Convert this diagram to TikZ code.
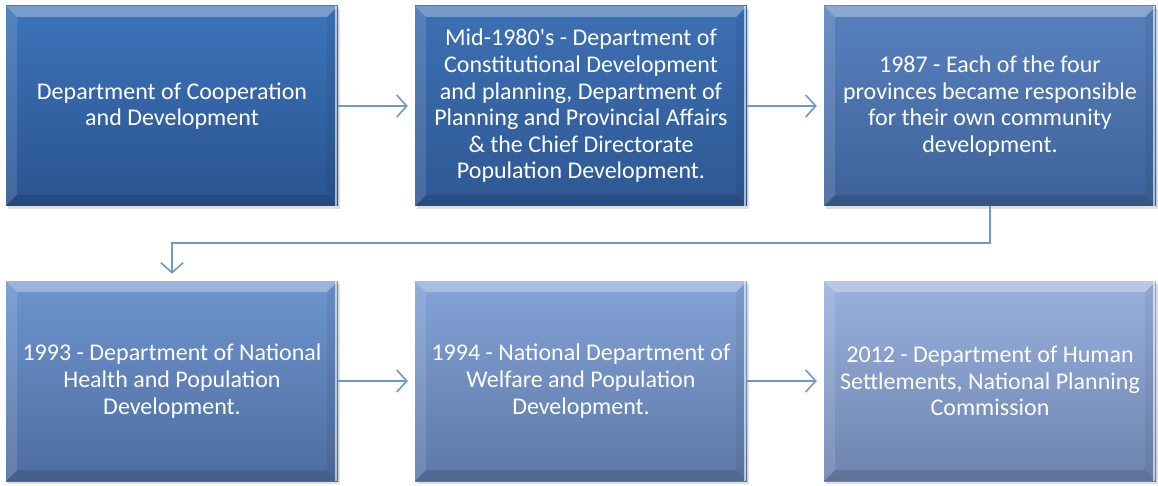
\documentclass[tikz,border=0pt]{standalone}
\usepackage{fontspec}
\setmainfont{Carlito}
\usetikzlibrary{arrows.meta,shadows}

\definecolor{linkblue}{HTML}{7396C8}
\definecolor{topA}{HTML}{3C74BA}\definecolor{botA}{HTML}{2A5390}
\definecolor{topB}{HTML}{3D70B4}\definecolor{botB}{HTML}{2E5893}
\definecolor{topC}{HTML}{5981BF}\definecolor{botC}{HTML}{3D6298}
\definecolor{topD}{HTML}{6E94CF}\definecolor{botD}{HTML}{4E6D9E}
\definecolor{topE}{HTML}{84A3D6}\definecolor{botE}{HTML}{5C78A8}
\definecolor{topF}{HTML}{99B2DD}\definecolor{botF}{HTML}{6C83AE}

\tikzset{
  stage/.style 2 args={rectangle, minimum width=332pt, minimum height=200pt,
    inner sep=0pt, top color=#1, bottom color=#2, draw=none,
    text=white, align=center,
    font=\fontsize{24}{26.6}\selectfont,
    drop shadow={opacity=0.25, shadow xshift=2pt, shadow yshift=-3pt},
    path picture={
      \coordinate (nw) at (path picture bounding box.north west);
      \coordinate (ne) at (path picture bounding box.north east);
      \coordinate (sw) at (path picture bounding box.south west);
      \coordinate (se) at (path picture bounding box.south east);
      \fill[white, opacity=0.3] (nw) -- (ne) -- ([shift={(-11pt,-11pt)}]ne) -- ([shift={(11pt,-11pt)}]nw) -- cycle;
      \fill[white, opacity=0.12] (nw) -- ([shift={(11pt,-11pt)}]nw) -- ([shift={(11pt,11pt)}]sw) -- (sw) -- cycle;
      \fill[black, opacity=0.06] (ne) -- ([shift={(-11pt,-11pt)}]ne) -- ([shift={(-11pt,11pt)}]se) -- (se) -- cycle;
      \fill[black, opacity=0.12] (sw) -- ([shift={(11pt,11pt)}]sw) -- ([shift={(-11pt,11pt)}]se) -- (se) -- cycle;
      \draw[white, opacity=0.6, line width=1.2pt] ([xshift=-2pt]ne) -- ([xshift=-2pt]se);
    }},
  link/.style={draw=linkblue, line width=1.6pt,
    -{Straight Barb[length=10pt, width=22pt]}, shorten >=7pt}
}

\begin{document}
\begin{tikzpicture}[x=1pt, y=1pt]
\useasboundingbox (0,0) rectangle (1158,-486);

% top row
\node[stage={topA}{botA}] (p1) at (172,-106) {Department of Cooperation\\and Development};
\node[stage={topB}{botB}] (p2) at (581,-106) {Mid-1980\textquotesingle s - Department of\\Constitutional Development\\and planning, Department of\\Planning and Provincial Affairs\\\& the Chief Directorate\\Population Development.};
\node[stage={topC}{botC}] (p3) at (990,-106) {1987 - Each of the four\\provinces became responsible\\for their own community\\development.};

% bottom row
\node[stage={topD}{botD}] (p4) at (172,-381) {1993 - Department of National\\Health and Population\\Development.};
\node[stage={topE}{botE}] (p5) at (581,-381) {1994 - National Department of\\Welfare and Population\\Development.};
\node[stage={topF}{botF}] (p6) at (990,-381) {2012 - Department of Human\\Settlements, National Planning\\Commission};

\draw[link] (p1) -- (p2);
\draw[link] (p2) -- (p3);
\draw[link] (p3.south) -- ++(0,-37) -| (p4.north);
\draw[link] (p4) -- (p5);
\draw[link] (p5) -- (p6);

\end{tikzpicture}
\end{document}
